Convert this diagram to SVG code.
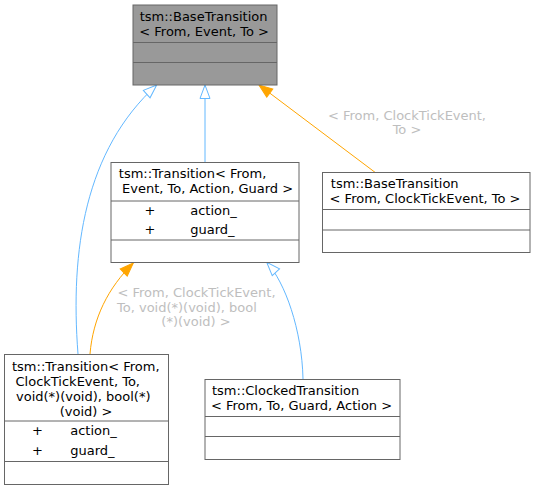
<svg xmlns="http://www.w3.org/2000/svg" width="535" height="489" viewBox="0 0 535 489">
<style>
text{font-family:"DejaVu Sans","Liberation Sans",sans-serif;font-size:13px;fill:#000}
.box{fill:#fff;stroke:#666;stroke-width:1}
.base{fill:#999;stroke:#666;stroke-width:1}
.div{stroke:#666;stroke-width:1}
.lbl{fill:#bebebe}
.inh{fill:none;stroke:#63b8ff;stroke-width:1}
.tpl{fill:none;stroke:#ffa500;stroke-width:1}
.m{text-anchor:middle}
</style>
<defs>
<marker id="hollow" markerUnits="userSpaceOnUse" markerWidth="16" markerHeight="12" refX="14" refY="5.5" orient="auto" overflow="visible">
<path d="M0.5,0.5 L14,5.5 L0.5,10.5 Z" fill="#fff" stroke="#63b8ff" stroke-width="1"/>
</marker>
<marker id="filled" markerUnits="userSpaceOnUse" markerWidth="16" markerHeight="12" refX="14" refY="5.5" orient="auto" overflow="visible">
<path d="M0.5,0.5 L14,5.5 L0.5,10.5 Z" fill="#ffa500" stroke="#ffa500" stroke-width="1"/>
</marker>
</defs>
<g id="edges">
<path class="inh" d="M78,354 C70,250 85,150 156.7,85" marker-end="url(#hollow)"/>
<path class="inh" d="M205,162 L205,85" marker-end="url(#hollow)"/>
<path class="tpl" d="M375,172.3 L259,85" marker-end="url(#filled)"/>
<text class="lbl m" x="407" y="120">&lt; From, ClockTickEvent,</text>
<text class="lbl m" x="407" y="134">To &gt;</text>
<path class="tpl" d="M90,354 C93,318 108,288 133.3,263" marker-end="url(#filled)"/>
<text class="lbl" x="117.5" y="297">&lt; From, ClockTickEvent,</text>
<text class="lbl" x="117" y="311.5">To, void(*)(void), bool</text>
<text class="lbl m" x="196" y="326">(*)(void) &gt;</text>
<path class="inh" d="M303,379 C302,330 285,282 266.7,262.3" marker-end="url(#hollow)"/>
</g>
<g id="node-base">
<rect class="base" x="133" y="5" width="144" height="80"/>
<line class="div" x1="133" y1="42.5" x2="277" y2="42.5"/>
<line class="div" x1="133" y1="62.5" x2="277" y2="62.5"/>
<text x="139.7" y="20.5">tsm::BaseTransition</text>
<text x="139.3" y="35.5">&lt; From, Event, To &gt;</text>
</g>
<g id="node-transition">
<rect class="box" x="111" y="162.5" width="188" height="100"/>
<line class="div" x1="111" y1="201" x2="299" y2="201"/>
<line class="div" x1="111" y1="240" x2="299" y2="240"/>
<text x="118.8" y="178">tsm::Transition&lt; From,</text>
<text x="122" y="193">Event, To, Action, Guard &gt;</text>
<text class="m" x="150" y="214.5">+</text>
<text x="190.2" y="214.5">action_</text>
<text class="m" x="150" y="234">+</text>
<text x="190.2" y="234">guard_</text>
</g>
<g id="node-base-clock">
<rect class="box" x="322.5" y="172.5" width="207.5" height="80"/>
<line class="div" x1="322.5" y1="209.5" x2="530" y2="209.5"/>
<line class="div" x1="322.5" y1="230" x2="530" y2="230"/>
<text x="330.8" y="188">tsm::BaseTransition</text>
<text x="329.6" y="203">&lt; From, ClockTickEvent, To &gt;</text>
</g>
<g id="node-transition-clock">
<rect class="box" x="4.5" y="354.5" width="164" height="130"/>
<line class="div" x1="4.5" y1="421" x2="168.5" y2="421"/>
<line class="div" x1="4.5" y1="461.5" x2="168.5" y2="461.5"/>
<text x="12" y="370.5">tsm::Transition&lt; From,</text>
<text x="15.5" y="385.5">ClockTickEvent, To,</text>
<text x="16" y="400.5">void(*)(void), bool(*)</text>
<text class="m" x="86" y="415.5">(void) &gt;</text>
<text class="m" x="37.5" y="435">+</text>
<text x="70.2" y="435">action_</text>
<text class="m" x="37.5" y="454.5">+</text>
<text x="70.2" y="454.5">guard_</text>
</g>
<g id="node-clocked">
<rect class="box" x="205" y="379.5" width="195" height="80"/>
<line class="div" x1="205" y1="416.5" x2="400" y2="416.5"/>
<line class="div" x1="205" y1="436.5" x2="400" y2="436.5"/>
<text x="212" y="395">tsm::ClockedTransition</text>
<text x="211" y="410">&lt; From, To, Guard, Action &gt;</text>
</g>
</svg>
